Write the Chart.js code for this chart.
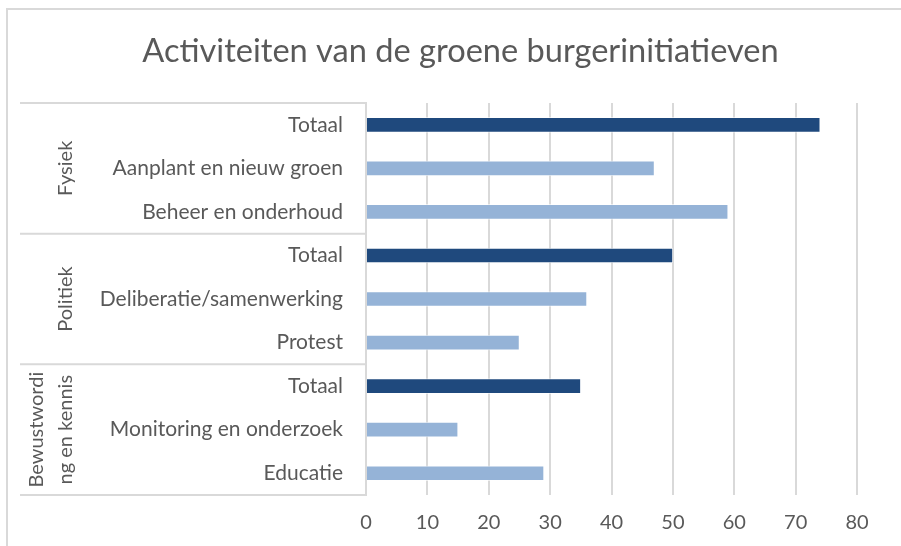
<!DOCTYPE html>
<html>
<head>
<meta charset="utf-8">
<script src="https://cdn.jsdelivr.net/npm/chart.js@4"></script>
<style>
  html, body { margin: 0; padding: 0; background: #fff; }
  canvas { display: block; }
</style>
</head>
<body>
<canvas id="chart" width="901" height="546"></canvas>
<script>
const title = "Activiteiten van de groene burgerinitiatieven";
const groupNames = [["Fysiek"], ["Politiek"], ["Bewustwordi", "ng en kennis"]];
const groupSizes = [3, 3, 3];
const subLabels = [
  "Totaal", "Aanplant en nieuw groen", "Beheer en onderhoud",
  "Totaal", "Deliberatie/samenwerking", "Protest",
  "Totaal", "Monitoring en onderzoek", "Educatie"
];
const values = [74, 47, 59, 50, 36, 25, 35, 15, 29];
const xTicks = [0, 10, 20, 30, 40, 50, 60, 70, 80];

const darkBlue = "#1f497d";
const lightBlue = "#95b3d7";
const gridColor = "#d9d9d9";
const textColor = "#595959";
const fontFamily = "Lato, 'Noto Sans', sans-serif";

const barColors = subLabels.map(l => (l === "Totaal" ? darkBlue : lightBlue));

// frame, group dividers and rotated group labels
const groupAxis = {
  id: "groupAxis",
  beforeDraw(chart) {
    const ctx = chart.ctx;
    ctx.save();
    ctx.strokeStyle = gridColor;
    ctx.lineWidth = 2;
    ctx.beginPath();
    ctx.moveTo(7, 546);
    ctx.lineTo(7, 9);
    ctx.lineTo(901, 9);
    ctx.stroke();
    ctx.restore();
  },
  afterDraw(chart) {
    const ctx = chart.ctx;
    const y = chart.scales.y;
    const left = chart.chartArea.left;
    const step = y.getPixelForValue(1) - y.getPixelForValue(0);
    const edge = i => y.getPixelForValue(i) - step / 2;

    ctx.save();
    ctx.strokeStyle = gridColor;
    ctx.lineWidth = 2;
    let idx = 0;
    const bounds = [edge(0)];
    groupSizes.forEach(n => { idx += n; bounds.push(edge(idx)); });
    bounds.forEach(b => {
      ctx.beginPath();
      ctx.moveTo(20, b);
      ctx.lineTo(left, b);
      ctx.stroke();
    });

    ctx.fillStyle = textColor;
    ctx.font = "20px " + fontFamily;
    ctx.textAlign = "center";
    ctx.textBaseline = "middle";
    groupNames.forEach((lines, g) => {
      const cy = (bounds[g] + bounds[g + 1]) / 2;
      const lineH = 29;
      const x0 = 66 - (lines.length - 1) * lineH;
      lines.forEach((line, k) => {
        ctx.save();
        ctx.translate(x0 + k * lineH, cy);
        ctx.rotate(-Math.PI / 2);
        ctx.fillText(line, 0, 0);
        ctx.restore();
      });
    });
    ctx.restore();
  }
};

new Chart(document.getElementById("chart"), {
  type: "bar",
  data: {
    labels: subLabels,
    datasets: [{
      data: values,
      backgroundColor: barColors,
      borderColor: "rgba(255,255,255,0.6)",
      borderWidth: 1,
      barThickness: 15
    }]
  },
  options: {
    indexAxis: "y",
    responsive: false,
    animation: false,
    layout: { padding: { left: 64, top: 20, right: 44, bottom: 11 } },
    scales: {
      x: {
        min: 0,
        max: 80,
        afterBuildTicks: s => { s.ticks = xTicks.map(v => ({ value: v })); },
        afterFit: s => { s.height = 40; },
        grid: { color: gridColor, lineWidth: 2, drawTicks: false },
        border: { display: false },
        ticks: { color: textColor, font: { family: fontFamily, size: 20 }, padding: 16 }
      },
      y: {
        afterFit: s => { s.width = 302; },
        grid: { display: false },
        border: { display: true, color: gridColor, width: 2 },
        ticks: { color: textColor, font: { family: fontFamily, size: 21 }, padding: 15 }
      }
    },
    plugins: {
      legend: { display: false },
      tooltip: { enabled: false },
      title: {
        display: true,
        text: title,
        color: textColor,
        font: { family: fontFamily, size: 32.6, weight: "normal" },
        padding: { top: 12, bottom: 31.9 }
      }
    }
  },
  plugins: [groupAxis]
});
</script>
</body>
</html>
